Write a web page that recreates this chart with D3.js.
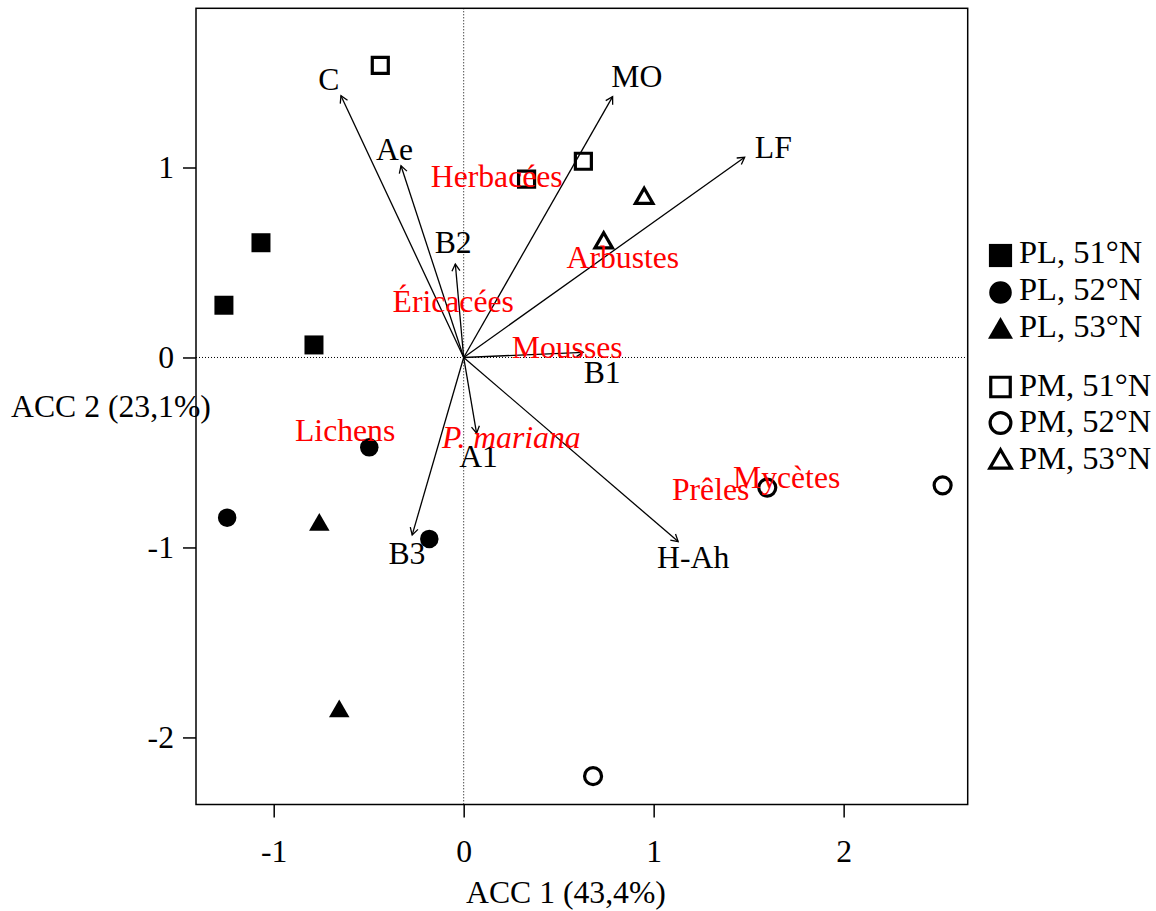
<!DOCTYPE html>
<html><head><meta charset="utf-8">
<script src="https://cdn.jsdelivr.net/npm/d3@7"></script>
<style>body{margin:0;background:#fff}svg{display:block}text{font-family:"Liberation Serif","Times New Roman",serif}</style>
</head><body>
<svg id="chart" width="1156" height="911"></svg>
<script>
// ---- Data ----
const xTicks = [-1, 0, 1, 2];
const yTicks = [-2, -1, 0, 1];
const xTitle = "ACC 1 (43,4%)";
const yTitle = "ACC 2 (23,1%)";

const groupNames = ["PL, 51°N", "PL, 52°N", "PL, 53°N", "PM, 51°N", "PM, 52°N", "PM, 53°N"];
const groupShapes = ["square", "circle", "triangle", "square", "circle", "triangle"];
const groupFilled = [true, true, true, false, false, false];

const PL51 = [[-1.067, 0.604], [-1.262, 0.275], [-0.788, 0.066]];
const PL52 = [[-0.497, -0.473], [-1.245, -0.843], [-0.181, -0.955]];
const PL53 = [[-0.760, -0.881], [-0.655, -1.863]];
const PM51 = [[-0.439, 1.538], [0.331, 0.939], [0.630, 1.033]];
const PM52 = [[1.598, -0.685], [2.521, -0.673], [0.681, -2.204]];
const PM53 = [[0.950, 0.838], [0.737, 0.603]];
const groupPoints = [PL51, PL52, PL53, PM51, PM52, PM53];

const envNames  = ["C", "Ae", "B2", "MO", "LF", "B1", "A1", "B3", "H-Ah"];
const envX      = [-0.646, -0.330, -0.044, 0.784, 1.479, 0.629, 0.068, -0.271, 1.129];
const envY      = [1.378, 1.009, 0.492, 1.373, 1.054, 0.027, -0.399, -0.934, -0.969];
const envLabelX = [-0.710, -0.364, -0.055, 0.911, 1.630, 0.729, 0.078, -0.299, 1.208];
const envLabelY = [1.465, 1.097, 0.609, 1.483, 1.109, -0.078, -0.517, -1.029, -1.052];

const spNames  = ["Herbacées", "Éricacées", "Arbustes", "Mousses", "Lichens", "P. mariana", "Prêles", "Mycètes"];
const spItalic = [false, false, false, false, false, true, false, false];
const spX      = [0.174, -0.055, 0.838, 0.545, -0.624, 0.251, 1.300, 1.700];
const spY      = [0.956, 0.298, 0.527, 0.055, -0.382, -0.416, -0.693, -0.631];

// ---- Layout ----
const L = 196, R = 967.7, T = 8.3, B = 804.5;
const FS = 31.7, LFS = 32.5;
const x = d3.scaleLinear().domain([-1.409, 2.653]).range([L, R]);
const y = d3.scaleLinear().domain([-2.353, 1.838]).range([B, T]);
const svg = d3.select("#chart");
const fmt = d => String(d);

// zero lines
svg.append("line").attr("x1", x(0)).attr("x2", x(0)).attr("y1", T).attr("y2", B)
  .attr("stroke", "#000").attr("stroke-width", 1).attr("stroke-dasharray", "1,2");
svg.append("line").attr("x1", L).attr("x2", R).attr("y1", y(0)).attr("y2", y(0))
  .attr("stroke", "#000").attr("stroke-width", 1).attr("stroke-dasharray", "1,2");

// axes
const xAxis = d3.axisBottom(x).tickValues(xTicks).tickSize(13).tickPadding(12).tickFormat(fmt);
const gx = svg.append("g").attr("transform", `translate(0,${B})`).call(xAxis);
gx.attr("font-family", null).attr("font-size", null);
gx.select(".domain").remove();
gx.selectAll(".tick line").attr("stroke", "#000").attr("stroke-width", 1.5);
gx.selectAll(".tick text").attr("font-size", FS).attr("fill", "#000").attr("dy", 0).attr("y", 57);

const yAxis = d3.axisLeft(y).tickValues(yTicks).tickSize(13).tickPadding(10).tickFormat(fmt);
const gy = svg.append("g").attr("transform", `translate(${L},0)`).call(yAxis);
gy.attr("font-family", null).attr("font-size", null);
gy.select(".domain").remove();
gy.selectAll(".tick line").attr("stroke", "#000").attr("stroke-width", 1.5);
gy.selectAll(".tick text").attr("font-size", FS).attr("fill", "#000").attr("x", -22).attr("dy", "0.33em");

// titles
svg.append("text").attr("x", 566).attr("y", 903).attr("text-anchor", "middle")
  .attr("font-size", FS).text(xTitle);
svg.append("text").attr("x", 111).attr("y", 417).attr("text-anchor", "middle")
  .attr("font-size", FS).text(yTitle);

// arrows
const ox = x(0), oy = y(0);
envNames.forEach((n, i) => {
  const tx = x(envX[i]), ty = y(envY[i]);
  const ang = Math.atan2(ty - oy, tx - ox);
  const hl = 8, ha = Math.PI / 6;
  const g = svg.append("g").attr("stroke", "#000").attr("stroke-width", 1.3).attr("fill", "none");
  g.append("line").attr("x1", ox).attr("y1", oy).attr("x2", tx).attr("y2", ty);
  g.append("path").attr("d",
    `M${tx - hl * Math.cos(ang - ha)},${ty - hl * Math.sin(ang - ha)}L${tx},${ty}L${tx - hl * Math.cos(ang + ha)},${ty - hl * Math.sin(ang + ha)}`);
  svg.append("text").attr("x", x(envLabelX[i])).attr("y", y(envLabelY[i])).attr("dy", "0.35em")
    .attr("text-anchor", "middle").attr("font-size", FS).attr("fill", "#000").text(n);
});

// symbols
function symPath(shape, cx, cy, s) {
  if (shape === "square") {
    return `M${cx - s / 2},${cy - s / 2}h${s}v${s}h${-s}Z`;
  }
  if (shape === "circle") {
    const r = s / 2;
    return `M${cx + r},${cy}A${r},${r} 0 1,1 ${cx - r},${cy}A${r},${r} 0 1,1 ${cx + r},${cy}Z`;
  }
  // triangle, centroid at point; s = width
  const xc = s / 2, r = xc * 1.555 / 1.347, yc = r / 2;
  return `M${cx},${cy - r}L${cx + xc},${cy + yc}L${cx - xc},${cy + yc}Z`;
}
function drawSym(shape, filled, cx, cy, scale) {
  let s, sw = 3.2;
  if (shape === "square") s = filled ? 19 : 16;
  else if (shape === "circle") s = filled ? 18.5 : 17;
  else s = filled ? 20.5 : 17.5;
  s *= scale;
  svg.append("path").attr("d", symPath(shape, cx, cy, s))
    .attr("fill", filled ? "#000" : "none")
    .attr("stroke", filled ? "none" : "#000")
    .attr("stroke-width", sw).attr("stroke-linejoin", "miter");
}
groupPoints.forEach((pts, gi) => {
  pts.forEach(p => drawSym(groupShapes[gi], groupFilled[gi], x(p[0]), y(p[1]), 1));
});

// species labels (red)
spNames.forEach((n, i) => {
  svg.append("text").attr("x", x(spX[i])).attr("y", y(spY[i])).attr("dy", "0.35em")
    .attr("text-anchor", "middle").attr("font-size", FS).attr("fill", "#FF0000")
    .attr("font-style", spItalic[i] ? "italic" : "normal").text(n);
});

// box
svg.append("rect").attr("x", L).attr("y", T).attr("width", R - L).attr("height", B - T)
  .attr("fill", "none").attr("stroke", "#000").attr("stroke-width", 1.5);

// legend
const legSymY = [255.5, 292.5, 331.5, 387, 423, 462];
const legTxtY = [263, 300, 337, 396, 432, 469];
groupNames.forEach((n, i) => {
  drawSym(groupShapes[i], groupFilled[i], 1000.5, legSymY[i], 1.22);
  svg.append("text").attr("x", 1019).attr("y", legTxtY[i])
    .attr("font-size", LFS).attr("fill", "#000").text(n);
});
</script>
</body></html>
